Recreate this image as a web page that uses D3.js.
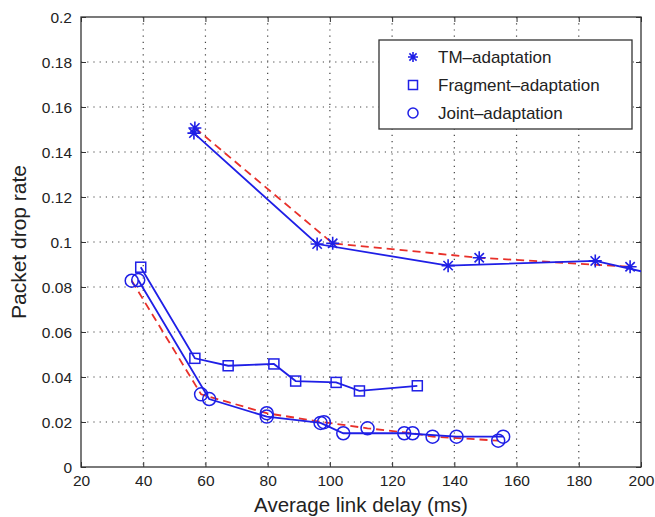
<!DOCTYPE html>
<html lang="en">
<head>
<meta charset="UTF-8">
<title>Packet drop rate vs link delay</title>
<script src="https://d3js.org/d3.v7.min.js"></script>
<style>
  body { margin: 0; background: #fff; }
  text { font-family: "Liberation Sans", Arial, Helvetica, sans-serif; }
</style>
</head>
<body>
<svg id="chart" width="655" height="517"></svg>
<script>
// series: [delay (ms), drop rate]
const tmSolid = [[56.3, 0.1484], [95.9, 0.0991], [138.0, 0.0895], [185.3, 0.0916], [208, 0.0845]];
const tmDashed = [[56.6, 0.1507], [100.9, 0.0994], [148.0, 0.0930], [196.5, 0.0890]];
const fragSolid = [[39.2, 0.0888], [56.6, 0.0483], [67.3, 0.0450], [82.0, 0.0458], [89.0, 0.0382], [102.0, 0.0376], [109.5, 0.0338], [128.1, 0.0361]];
const jointSolid = [[38.4, 0.0831], [61.2, 0.0302], [79.7, 0.0224], [97.0, 0.0196], [104.3, 0.0150], [123.9, 0.0150], [140.7, 0.0135], [155.7, 0.0135]];
const jointDashed = [[36.3, 0.0828], [58.6, 0.0323], [79.7, 0.0239], [98.1, 0.0199], [112.1, 0.0172], [126.6, 0.0150], [133.0, 0.0135], [154.1, 0.0117]];

const xTicks = [20, 40, 60, 80, 100, 120, 140, 160, 180, 200];
const yTicks = [0, 0.02, 0.04, 0.06, 0.08, 0.1, 0.12, 0.14, 0.16, 0.18, 0.2];
const legendLabels = ["TM\u2013adaptation", "Fragment\u2013adaptation", "Joint\u2013adaptation"];

const blue = "#1f1fe6";
const red = "#e8302a";

const svg = d3.select("#chart");
const margin = {top: 17, right: 14, bottom: 50, left: 81};
const width = 655 - margin.left - margin.right;
const height = 517 - margin.top - margin.bottom;
const g = svg.append("g").attr("transform", `translate(${margin.left},${margin.top})`);

const x = d3.scaleLinear().domain([20, 200]).range([0, width]);
const y = d3.scaleLinear().domain([0, 0.2]).range([height, 0]);

svg.append("defs").append("clipPath").attr("id", "clip")
  .append("rect").attr("width", width).attr("height", height);

// dotted grid
g.append("g").selectAll("line")
  .data(xTicks.slice(1, -1)).enter().append("line")
  .attr("x1", d => x(d)).attr("x2", d => x(d))
  .attr("y1", 0).attr("y2", height)
  .attr("stroke", "#444").attr("stroke-width", 1.2).attr("stroke-dasharray", "1.2,5");
g.append("g").selectAll("line")
  .data(yTicks.slice(1, -1)).enter().append("line")
  .attr("y1", d => y(d)).attr("y2", d => y(d))
  .attr("x1", 0).attr("x2", width)
  .attr("stroke", "#444").attr("stroke-width", 1.2).attr("stroke-dasharray", "1.2,5");

// axes with inward ticks
const fmtY = d => d === 0 ? "0" : String(+d.toFixed(2));
const ax = g.append("g").attr("transform", `translate(0,${height})`)
  .call(d3.axisBottom(x).tickValues(xTicks).tickSize(-5).tickPadding(7).tickFormat(d3.format("d")));
const ay = g.append("g")
  .call(d3.axisLeft(y).tickValues(yTicks).tickSize(-5).tickPadding(9).tickFormat(fmtY));
g.append("g").call(d3.axisTop(x).tickValues(xTicks).tickSize(-5).tickFormat(""));
g.append("g").attr("transform", `translate(${width},0)`)
  .call(d3.axisRight(y).tickValues(yTicks).tickSize(-5).tickFormat(""));
g.selectAll(".domain").remove();
g.selectAll(".tick line").attr("stroke", "#333");
[ax, ay].forEach(a => a.selectAll("text").attr("font-size", 15.5).attr("fill", "#222")
  .attr("font-family", "'Liberation Sans', Arial, sans-serif"));
ax.selectAll("text").attr("dy", "0.8em");
ay.selectAll("text").attr("dy", "0.35em");

g.append("rect").attr("width", width).attr("height", height)
  .attr("fill", "none").attr("stroke", "#333").attr("stroke-width", 1.3);

// lines
const line = d3.line().x(d => x(d[0])).y(d => y(d[1]));
const plot = g.append("g").attr("clip-path", "url(#clip)");
[[tmDashed, red, "8,5"], [jointDashed, red, "8,5"],
 [tmSolid, blue, null], [fragSolid, blue, null], [jointSolid, blue, null]].forEach(([data, col, dash]) => {
  plot.append("path").datum(data).attr("d", line)
    .attr("fill", "none").attr("stroke", col).attr("stroke-width", 1.8)
    .attr("stroke-dasharray", dash);
});

// markers
function star(sel, s) {
  const d = s * 0.72;
  sel.append("path")
    .attr("d", `M${-s},0L${s},0M0,${-s}L0,${s}M${-d},${-d}L${d},${d}M${-d},${d}L${d},${-d}`)
    .attr("stroke", blue).attr("stroke-width", 1.6).attr("fill", "none");
}
function square(sel, s) {
  sel.append("rect").attr("x", -s).attr("y", -s).attr("width", 2 * s).attr("height", 2 * s)
    .attr("fill", "none").attr("stroke", blue).attr("stroke-width", 1.5);
}
function circle(sel, s) {
  sel.append("circle").attr("r", s).attr("fill", "none").attr("stroke", blue).attr("stroke-width", 1.5);
}
const pts = (data, fn, s) => plot.append("g").selectAll("g").data(data.filter(d => d[0] <= 200))
  .enter().append("g").attr("transform", d => `translate(${x(d[0])},${y(d[1])})`)
  .each(function () { fn(d3.select(this), s); });
pts(tmSolid, star, 6.5);
pts(tmDashed, star, 6.5);
pts(fragSolid, square, 5);
pts(jointSolid, circle, 6.5);
pts(jointDashed, circle, 6.5);

// legend
const lg = svg.append("g").attr("transform", "translate(379,40)");
lg.append("rect").attr("width", 253).attr("height", 89)
  .attr("fill", "#fff").attr("stroke", "#333").attr("stroke-width", 1.3);
const markers = [[star, 5], [square, 4.5], [circle, 5]];
legendLabels.forEach((lab, i) => {
  const row = lg.append("g").attr("transform", `translate(34,${17 + i * 28})`);
  markers[i][0](row, markers[i][1]);
  row.append("text").attr("x", 25).attr("dy", "0.35em")
    .attr("font-size", 17).attr("fill", "#222").text(lab);
});

// axis titles
svg.append("text").attr("x", margin.left + width / 2).attr("y", 512)
  .attr("text-anchor", "middle").attr("font-size", 20.5).attr("fill", "#222")
  .text("Average link delay (ms)");
svg.append("text").attr("transform", `translate(26,${margin.top + height / 2}) rotate(-90)`)
  .attr("text-anchor", "middle").attr("font-size", 21).attr("fill", "#222")
  .text("Packet drop rate");
</script>
</body>
</html>
